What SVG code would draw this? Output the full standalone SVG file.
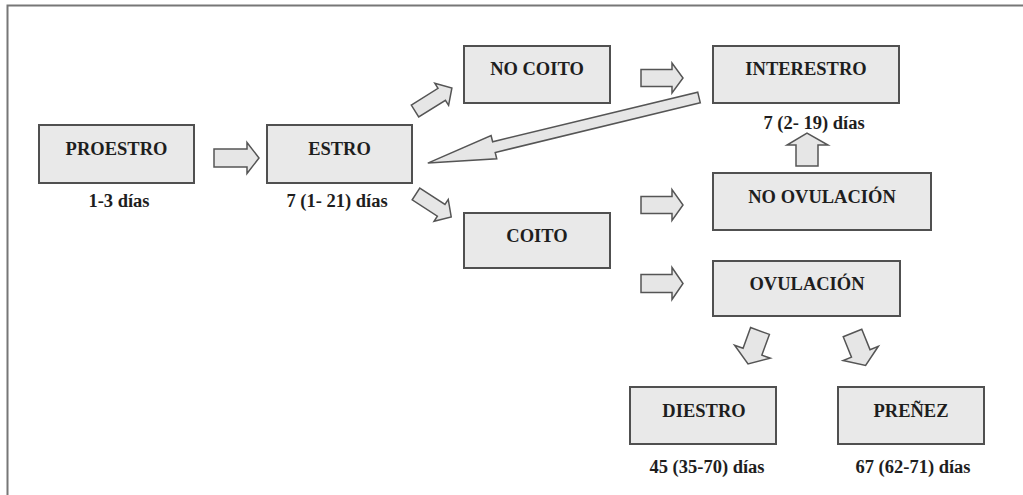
<svg xmlns="http://www.w3.org/2000/svg" width="1023" height="495" viewBox="0 0 1023 495">
<style>
.box{fill:#e9e9e9;stroke:#505050;stroke-width:2}
.arr{fill:#e6e6e6;stroke:#555;stroke-width:1.5;stroke-linejoin:miter}
.t{font-family:"Liberation Serif","Times New Roman",serif;font-weight:bold;font-size:18.5px;fill:#1e1e1e;text-anchor:middle}
.frame{fill:none;stroke:#777;stroke-width:2}
</style>
<rect width="1023" height="495" fill="#fff"/>
<path class="frame" d="M7.5,495 L7.5,5.5 L1023,5.5"/>
<g id="proestro"><rect class="box" x="39" y="125" width="155" height="58"/><text class="t" x="116.5" y="155">PROESTRO</text><text class="t" x="119" y="207">1-3 días</text></g>
<g id="estro"><rect class="box" x="267" y="125" width="145" height="58"/><text class="t" x="339.5" y="155">ESTRO</text><text class="t" x="337" y="207">7 (1- 21) días</text></g>
<g id="nocoito"><rect class="box" x="464" y="46" width="146" height="57"/><text class="t" x="537" y="75">NO COITO</text></g>
<g id="interestro"><rect class="box" x="713" y="46" width="186" height="57"/><text class="t" x="806" y="75">INTERESTRO</text><text class="t" x="814" y="129">7 (2- 19) días</text></g>
<g id="noovulacion"><rect class="box" x="713" y="173" width="218" height="57"/><text class="t" x="822" y="203">NO OVULACIÓN</text></g>
<g id="coito"><rect class="box" x="464" y="213" width="146" height="55"/><text class="t" x="537" y="242">COITO</text></g>
<g id="ovulacion"><rect class="box" x="713" y="261" width="187" height="55"/><text class="t" x="807" y="290">OVULACIÓN</text></g>
<g id="diestro"><rect class="box" x="630" y="387" width="146" height="57"/><text class="t" x="704" y="417">DIESTRO</text><text class="t" x="707" y="473">45 (35-70) días</text></g>
<g id="prenez"><rect class="box" x="838" y="387" width="146" height="57"/><text class="t" x="911" y="417">PREÑEZ</text><text class="t" x="913" y="473">67 (62-71) días</text></g>
<g id="connectors">
<path class="arr" d="M214,149 L247,149 L247,142.5 L259,158 L247,173.5 L247,167 L214,167 Z"/>
<path class="arr" d="M641,69.5 L672,69.5 L672,63 L683,78 L672,93 L672,86.5 L641,86.5 Z"/>
<path class="arr" d="M641,196.5 L672,196.5 L672,189.5 L683,205 L672,220.5 L672,213.5 L641,213.5 Z"/>
<path class="arr" d="M641,274.5 L672,274.5 L672,267.5 L683,283.5 L672,299.5 L672,292.5 L641,292.5 Z"/>
<path class="arr" d="M796,166 L796,145 L787,145 L807,133 L828,145 L818,145 L818,166 Z"/>
<path class="arr" transform="translate(415,111) rotate(-32)" d="M0,-7 L31.5,-7 L31.5,-13 L43.5,0 L31.5,13 L31.5,7 L0,7 Z"/>
<path class="arr" transform="translate(416,194) rotate(33)" d="M0,-7 L30,-7 L30,-13 L42,0 L30,13 L30,7 L0,7 Z"/>
<path class="arr" transform="translate(699,97.5) rotate(166.4)" d="M0,-5.5 L211,-5.5 L211,-12 L279,0 L211,12 L211,5.5 L0,5.5 Z"/>
<path class="arr" transform="translate(760,331) rotate(110)" d="M0,-10 L22,-10 L22,-19 L35,0 L22,19 L22,10 L0,10 Z"/>
<path class="arr" transform="translate(852.5,333) rotate(68)" d="M0,-10 L22,-10 L22,-19 L35,0 L22,19 L22,10 L0,10 Z"/>
</g>
</svg>
